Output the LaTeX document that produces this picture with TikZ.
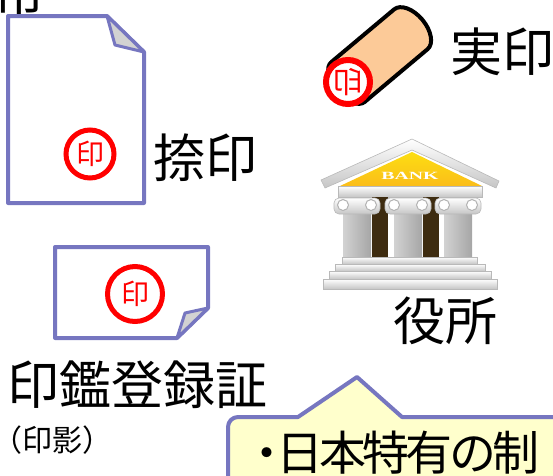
\documentclass[tikz,border=0pt]{standalone}
\usepackage{fontspec}
\setmainfont{Noto Sans CJK JP}
\newfontfamily\bankfont{Liberation Serif}
\usepackage{graphicx}
\usetikzlibrary{positioning}

\definecolor{docblue}{RGB}{118,118,192}
\definecolor{sealred}{RGB}{255,0,0}
\definecolor{sealwood}{RGB}{252,202,152}
\definecolor{foldgray}{RGB}{210,210,210}
\definecolor{notefill}{RGB}{255,255,204}
\definecolor{pillardark}{RGB}{62,44,16}
\definecolor{roofgold}{RGB}{250,200,30}

\begin{document}
\begin{tikzpicture}[x=1pt, y=-1pt,
    paper/.style={draw=docblue, line width=4pt, fill=white, line join=round},
    fold/.style={draw=docblue, line width=3pt, fill=foldgray, line join=round},
    stamp/.style={circle, draw=sealred, line width=5pt, fill=white, inner sep=0pt,
      text=sealred, font=\fontsize{28}{28}\selectfont},
    bigtext/.style={inner sep=0pt, font=\fontsize{52}{60}\selectfont},
    marble/.style={top color=white, bottom color=gray!45, draw=gray!55, line width=0.6pt}]
    \useasboundingbox (0,0) rectangle (553,475);
    \clip (0,0) rectangle (553,475);

    % Heading, cut off at the top
    \node[bigtext, anchor=south] (heading) at (20,20) {市};

    % Sealed document
    \draw[paper] (8,16) -- (107,16) -- (144,52) -- (144,203) -- (8,203) -- cycle;
    \draw[fold] (107,16) -- (115,45) -- (144,52) -- cycle;
    \node[stamp, minimum size=48pt] (stampA) at (90,154) {印};
    \node[bigtext] (natsuin) at (205,158) {捺印};

    % Registered seal
    \begin{scope}[shift={(348,82)}, rotate=40]
        \draw[line width=4pt, fill=sealwood, line join=round]
            (0,-26) -- (82,-26) arc[start angle=-90, end angle=90, x radius=15, y radius=26]
            -- (0,26) arc[start angle=90, end angle=270, x radius=14, y radius=26];
    \end{scope}
    \node[stamp, minimum size=44pt, line width=6pt, font=\fontsize{30}{30}\selectfont] (sealface) at (348,82) {\scalebox{-1}[1]{印}};
    \node[bigtext] (jitsuin) at (502,52) {実印};

    % Office building
    \shade[marble] (321,180) -- (412,139) -- (499,181) -- (496,188) -- (412,150) -- (325,188) -- cycle;
    \shade[top color=roofgold!60!yellow, bottom color=roofgold!85!orange] (340,186) -- (412,152) -- (482,186) -- cycle;
    \node[text=white, font=\bankfont\bfseries\fontsize{11}{11}\selectfont] (banksign) at (410,176) {\scalebox{1.8}[1]{BANK}};
    \shade[marble] (338,186) rectangle (482,197);
    \fill[pillardark] (372,197) rectangle (388,264);
    \fill[pillardark] (423,197) rectangle (439,264);
    \foreach \cx in {357,408,458} {
        \shade[left color=gray!35, middle color=white, right color=gray!70] (\cx-14,212) rectangle (\cx+14,257);
        \shade[marble, rounded corners=5pt] (\cx-23,198) rectangle (\cx+23,214);
        \draw[gray!60, line width=1pt, fill=white] (\cx-14,205) circle (5.5) (\cx+14,205) circle (5.5);
    }
    \shade[marble] (342,257) rectangle (477,264);
    \foreach \w/\ya/\yb in {75/264/271, 81/271/279, 87/279/289}
        \shade[marble] (410-\w,\ya) rectangle (410+\w,\yb);
    \node[bigtext] (yakusho) at (445,321) {役所};

    % Seal certificate
    \draw[paper] (55,247) -- (208,247) -- (208,308) -- (177,338) -- (55,338) -- cycle;
    \draw[fold] (177,338) -- (185,313) -- (208,308) -- cycle;
    \node[stamp, minimum size=55pt] (stampB) at (135,294) {印};
    \node[bigtext] (shomeisho) at (137,385) {印鑑登録証};
    \node[inner sep=0pt, font=\fontsize{30}{34}\selectfont\addfontfeatures{RawFeature=+halt}] (inei) at (52,440) {（印影）};

    % Note box
    \draw[draw=docblue, line width=4pt, fill=notefill, line join=round]
        (228,490) [rounded corners=10pt] -- (228,417) [sharp corners] -- (298,417) -- (357,377)
        -- (402,417) -- (570,417) -- (570,490) -- cycle;
    \node[anchor=base west, inner sep=0pt, font=\fontsize{47}{50}\selectfont\addfontfeatures{LetterSpace=-8}] (note) at (243,470) {・\kern-14pt 日本特有の制};
\end{tikzpicture}
\end{document}
